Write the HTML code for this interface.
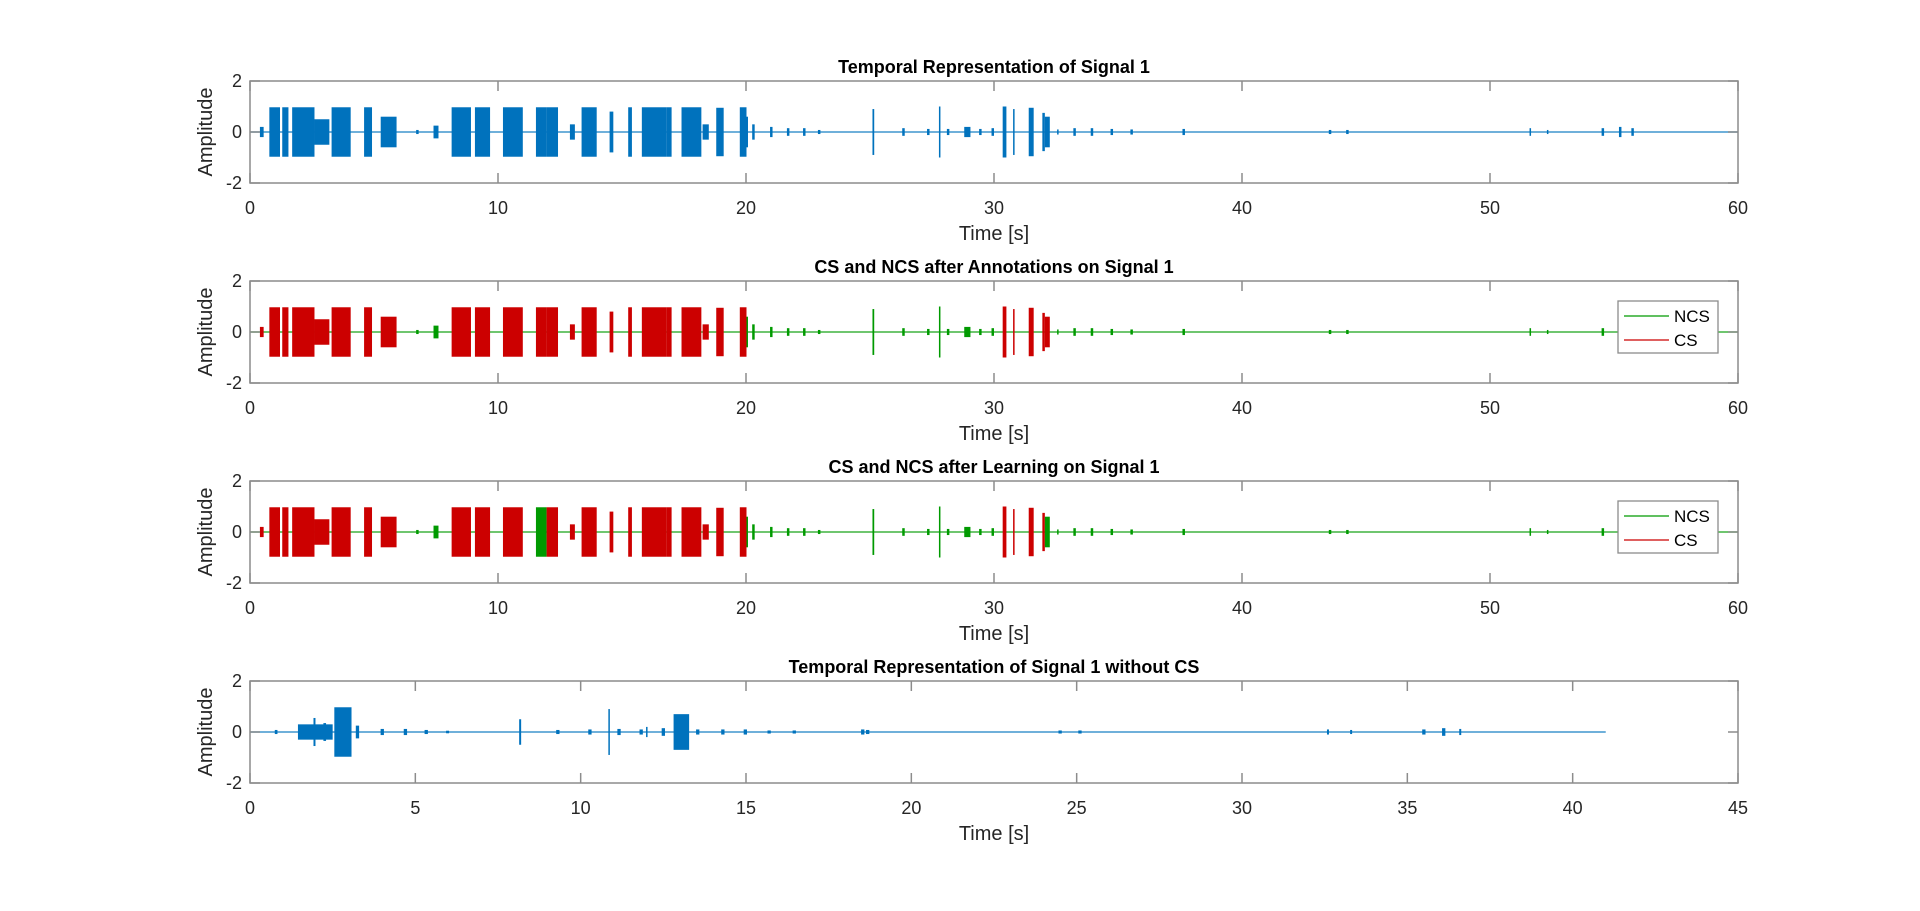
<!DOCTYPE html>
<html><head><meta charset="utf-8"><style>
html,body{margin:0;padding:0;background:#fff;}
svg{display:block;font-family:"Liberation Sans",sans-serif;}
</style></head><body>
<svg id="fig" width="1920" height="911" viewBox="0 0 1920 911"></svg>
<script>
// Signal bursts: start time, end time, amplitude (panel 1 signal)
const burstStart=[0.4,0.78,1.3,1.7,2.6,3.29,4.6,5.27,6.7,7.4,8.13,9.07,10.2,11.53,11.96,12.9,13.37,14.5,15.25,15.8,16.8,17.4,18.25,18.8,19.75,20.02,20.25,20.97,21.65,22.3,22.9,25.1,26.3,27.3,27.78,28.1,28.8,29.4,29.9,30.35,30.77,31.4,31.95,32.05,32.55,33.2,33.9,34.7,35.5,37.6,43.5,44.2,51.6,52.3,54.5,55.2,55.7];
const burstEnd  =[0.55,1.21,1.55,2.6,3.2,4.06,4.92,5.91,6.8,7.6,8.91,9.68,11.0,11.96,12.42,13.1,13.98,14.65,15.4,16.8,17.0,18.2,18.5,19.1,20.02,20.08,20.35,21.07,21.75,22.4,23.0,25.17,26.4,27.4,27.84,28.2,29.05,29.5,30.0,30.5,30.83,31.6,32.05,32.25,32.6,33.3,34.0,34.8,35.6,37.7,43.6,44.3,51.65,52.35,54.6,55.3,55.8];
const burstAmp  =[0.2,0.97,0.97,0.97,0.5,0.97,0.97,0.6,0.08,0.25,0.97,0.97,0.97,0.97,0.97,0.3,0.97,0.8,0.97,0.97,0.97,0.97,0.3,0.95,0.97,0.6,0.3,0.2,0.15,0.15,0.08,0.9,0.15,0.12,1.0,0.12,0.2,0.12,0.15,1.0,0.9,0.95,0.75,0.6,0.1,0.15,0.15,0.12,0.1,0.12,0.08,0.08,0.15,0.08,0.15,0.2,0.15];
// class of each burst after annotations (panel 2) and after learning (panel 3): 1 = CS, 0 = NCS
const annotCS=[1,1,1,1,1,1,1,1,0,0,1,1,1,1,1,1,1,1,1,1,1,1,1,1,1,0,0,0,0,0,0,0,0,0,0,0,0,0,0,1,1,1,1,1,0,0,0,0,0,0,0,0,0,0,0,0,0];
const learnCS=[1,1,1,1,1,1,1,1,0,0,1,1,1,0,1,1,1,1,1,1,1,1,1,1,1,0,0,0,0,0,0,0,0,0,0,0,0,0,0,1,1,1,1,0,0,0,0,0,0,0,0,0,0,0,0,0,0];
// Signal without CS (panel 4)
const ncsStart=[0.75,1.45,1.92,2.22,2.55,3.2,3.95,4.65,5.28,5.93,8.14,9.26,10.23,10.84,11.11,11.78,11.98,12.45,12.81,13.49,14.25,14.93,15.65,16.41,18.48,18.63,24.45,25.05,32.57,33.27,35.45,36.05,36.57];
const ncsEnd  =[0.83,2.5,1.98,2.3,3.07,3.3,4.05,4.75,5.38,6.02,8.2,9.36,10.33,10.88,11.21,11.88,12.02,12.55,13.28,13.59,14.35,15.03,15.75,16.51,18.58,18.73,24.55,25.15,32.63,33.33,35.55,36.15,36.63];
const ncsAmp  =[0.08,0.3,0.55,0.35,0.97,0.25,0.12,0.12,0.08,0.05,0.5,0.08,0.1,0.9,0.12,0.1,0.2,0.15,0.7,0.1,0.1,0.1,0.06,0.06,0.1,0.08,0.06,0.06,0.1,0.08,0.1,0.15,0.12];
const ticks60=[0,10,20,30,40,50,60];
const ticks45=[0,5,10,15,20,25,30,35,40,45];
const yTicks=[-2,0,2];

const NS="http://www.w3.org/2000/svg";
const svg=document.getElementById('fig');
function mk(tag,attrs,parent){const e=document.createElementNS(NS,tag);for(const k in attrs)e.setAttribute(k,attrs[k]);(parent||svg).appendChild(e);return e;}
const L=250,R=1738,H=102;
const BLUE='#0072bd',RED='#cc0000',GREEN='#009a00';

function panel(top,xmax,xticks,title,nm){
  const g=mk('g',{});
  
  
  const xs=t=>L+(t/xmax)*(R-L);
  const ys=v=>top+H/2-v*(H/4);
  mk('rect',{x:L,y:top,width:R-L,height:H,fill:'#fff'},g);
  return {g,xs,ys,top,xmax,xticks,title,nm};
}
function frame(p){
  const g=p.g,top=p.top;
  const ax=mk('g',{},g);
  
  
  mk('rect',{x:L,y:top,width:R-L,height:H,fill:'none',stroke:'#8c8c8c','stroke-width':1.5},ax);
  p.xticks.forEach(t=>{
    const x=p.xs(t);
    mk('line',{x1:x,y1:top+H,x2:x,y2:top+H-10,stroke:'#8c8c8c','stroke-width':1.5},ax);
    mk('line',{x1:x,y1:top,x2:x,y2:top+10,stroke:'#8c8c8c','stroke-width':1.5},ax);
    const tl=mk('text',{x:x,y:top+H+31,'text-anchor':'middle','font-size':18,fill:'#262626'},ax);
    tl.textContent=t;
    
    
  });
  yTicks.forEach(v=>{
    const y=p.ys(v);
    mk('line',{x1:L,y1:y,x2:L+10,y2:y,stroke:'#8c8c8c','stroke-width':1.5},ax);
    mk('line',{x1:R,y1:y,x2:R-10,y2:y,stroke:'#8c8c8c','stroke-width':1.5},ax);
    const tl=mk('text',{x:L-8,y:y+6,'text-anchor':'end','font-size':18,fill:'#262626'},ax);
    tl.textContent=v;
    
    
  });
  const tt=mk('text',{x:(L+R)/2,y:top-8,'text-anchor':'middle','font-size':18,'font-weight':'bold',fill:'#000'},g);
  tt.textContent=p.title;
  
  
  const xl=mk('text',{x:(L+R)/2,y:top+H+57,'text-anchor':'middle','font-size':20,fill:'#262626'},g);
  xl.textContent='Time [s]';
  
  
  const yl=mk('text',{x:0,y:0,'text-anchor':'middle','font-size':20,fill:'#262626',transform:`translate(212,${top+H/2}) rotate(-90)`},g);
  yl.textContent='Amplitude';
  
  
}
function baseline(p,t0,t1,color,w){
  mk('line',{x1:p.xs(t0),y1:p.ys(0),x2:p.xs(t1),y2:p.ys(0),stroke:color,'stroke-width':w||1.5,opacity:0.75},p.g);
}
function burst(p,t0,t1,a,color){
  let x0=p.xs(t0),x1=p.xs(t1);
  if(x1-x0<1.5){const c=(x0+x1)/2;x0=c-0.75;x1=c+0.75;}
  const r=mk('rect',{x:x0,y:p.ys(a),width:x1-x0,height:p.ys(-a)-p.ys(a),fill:color},p.g);
  
  
}
function legend(p){
  const g=mk('g',{},p.g);
  
  
  const y0=p.top+20;
  mk('rect',{x:1618,y:y0,width:100,height:52,fill:'#fff',stroke:'#8c8c8c','stroke-width':1.3},g);
  [['NCS',GREEN],['CS',RED]].forEach((e,i)=>{
    const eg=mk('g',{},g);
    
    
    const y=y0+15+i*24;
    mk('line',{x1:1624,y1:y,x2:1669,y2:y,stroke:e[1],'stroke-width':1.2},eg);
    const t=mk('text',{x:1674,y:y+6,'font-size':17,fill:'#000'},eg);t.textContent=e[0];
  });
}

// Panel 1
const p1=panel(81,60,ticks60,'Temporal Representation of Signal 1','panel-signal');
baseline(p1,0,60,BLUE);
burstStart.forEach((s,i)=>burst(p1,s,burstEnd[i],burstAmp[i],BLUE));
frame(p1);
// Panel 2
const p2=panel(281,60,ticks60,'CS and NCS after Annotations on Signal 1','panel-annotations');
baseline(p2,0,60,GREEN);
burstStart.forEach((s,i)=>burst(p2,s,burstEnd[i],burstAmp[i],annotCS[i]?RED:GREEN));
frame(p2);legend(p2);
// Panel 3
const p3=panel(481,60,ticks60,'CS and NCS after Learning on Signal 1','panel-learning');
baseline(p3,0,60,GREEN);
burstStart.forEach((s,i)=>burst(p3,s,burstEnd[i],burstAmp[i],learnCS[i]?RED:GREEN));
frame(p3);legend(p3);
// Panel 4
const p4=panel(681,45,ticks45,'Temporal Representation of Signal 1 without CS','panel-signal-without-cs');
baseline(p4,0,41,BLUE);
ncsStart.forEach((s,i)=>burst(p4,s,ncsEnd[i],ncsAmp[i],BLUE));
frame(p4);
</script>
</body></html>
